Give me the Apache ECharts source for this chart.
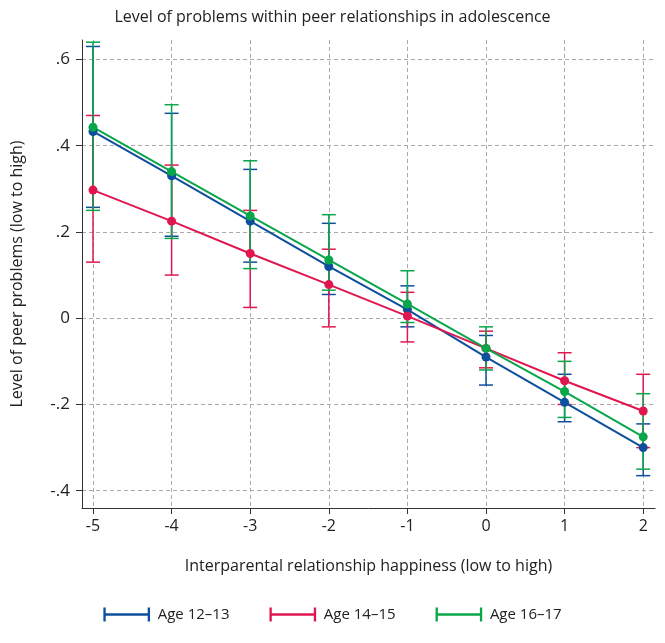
<!DOCTYPE html>
<html>
<head>
<meta charset="utf-8">
<script src="https://cdn.jsdelivr.net/npm/echarts@6/dist/echarts.min.js"></script>
<style>body{margin:0;background:#fff}#c{width:665px;height:643px}</style>
</head>
<body>
<div id="c"></div>
<script>
// x 值：父母关系幸福度
var xs = [-5, -4, -3, -2, -1, 0, 1, 2];
var yTicks = [-0.4, -0.2, 0, 0.2, 0.4, 0.6];

// 各年龄组估计值和置信区间
var age1213 = [0.433, 0.33, 0.225, 0.12, 0.02, -0.09, -0.195, -0.30];
var age1213Hi = [0.63, 0.475, 0.345, 0.22, 0.075, -0.04, -0.13, -0.245];
var age1213Lo = [0.257, 0.19, 0.13, 0.055, -0.02, -0.155, -0.24, -0.365];

var age1415 = [0.297, 0.225, 0.15, 0.078, 0.005, -0.07, -0.145, -0.215];
var age1415Hi = [0.47, 0.355, 0.25, 0.16, 0.06, -0.03, -0.08, -0.13];
var age1415Lo = [0.13, 0.10, 0.025, -0.02, -0.055, -0.115, -0.20, -0.30];

var age1617 = [0.443, 0.34, 0.237, 0.135, 0.033, -0.07, -0.17, -0.275];
var age1617Hi = [0.64, 0.495, 0.365, 0.24, 0.11, -0.02, -0.10, -0.175];
var age1617Lo = [0.25, 0.185, 0.115, 0.065, -0.01, -0.12, -0.23, -0.35];

var colors = ['#0d4f9c', '#e0174f', '#0aa64a'];
var names = ['Age 12\u201313', 'Age 14\u201315', 'Age 16\u201317'];
var groups = [[age1213, age1213Hi, age1213Lo], [age1415, age1415Hi, age1415Lo], [age1617, age1617Hi, age1617Lo]];

var font = 'Open Sans';
var series = [];
groups.forEach(function (g, i) {
	//误差线
	series.push({
		type: 'custom',
		name: names[i],
		z: 2,
		renderItem: function (params, api) {
			var lo = api.coord([api.value(0), api.value(1)]);
			var hi = api.coord([api.value(0), api.value(2)]);
			var w = 7;
			var st = { stroke: colors[i], lineWidth: 1.5 };
			return {
				type: 'group',
				children: [
					{ type: 'line', shape: { x1: lo[0], y1: lo[1], x2: hi[0], y2: hi[1] }, style: st },
					{ type: 'line', shape: { x1: lo[0] - w, y1: lo[1], x2: lo[0] + w, y2: lo[1] }, style: st },
					{ type: 'line', shape: { x1: hi[0] - w, y1: hi[1], x2: hi[0] + w, y2: hi[1] }, style: st }
				]
			};
		},
		data: xs.map(function (x, k) { return [x, g[2][k], g[1][k]]; })
	});
	//线和点
	series.push({
		type: 'line',
		name: names[i],
		z: 3,
		symbol: 'circle',
		symbolSize: 9,
		lineStyle: { color: colors[i], width: 2 },
		itemStyle: { color: colors[i] },
		data: xs.map(function (x, k) { return [x, g[0][k]]; })
	});
});

var icon = 'path://M0,0 L2,0 L2,5 L38,5 L38,0 L40,0 L40,12 L38,12 L38,7 L2,7 L2,12 L0,12 Z';

var option = {
	backgroundColor: '#fff',
	animation: false,
	color: colors,
	title: {
		text: 'Level of problems within peer relationships in adolescence',
		left: 'center', top: 4,
		textStyle: { fontFamily: font, fontWeight: 'normal', fontSize: 16, color: '#222' }
	},
	legend: {
		bottom: 16,
		itemWidth: 52, itemHeight: 14, itemGap: 40,
		icon: icon,
		textStyle: { fontFamily: font, fontSize: 15, color: '#222' },
		data: names.map(function (n, i) { return { name: n, itemStyle: { color: colors[i] } }; })
	},
	grid: { left: 82, right: 10, top: 40, bottom: 135 },
	xAxis: {
		type: 'value', min: -5.14, max: 2.15,
		name: 'Interparental relationship happiness (low to high)',
		nameLocation: 'middle', nameGap: 50,
		nameTextStyle: { fontFamily: font, fontSize: 16, color: '#222' },
		axisLine: { show: true, onZero: false, lineStyle: { color: '#333' } },
		axisTick: { show: true, length: 6, customValues: xs, lineStyle: { color: '#333' } },
		axisLabel: { customValues: xs, fontFamily: font, fontSize: 16, color: '#222', margin: 10 },
		splitLine: { show: true, lineStyle: { color: '#aaa', type: [4, 3] } }
	},
	yAxis: {
		type: 'value', min: -0.44, max: 0.645,
		name: 'Level of peer problems (low to high)',
		nameLocation: 'middle', nameGap: 57,
		nameTextStyle: { fontFamily: font, fontSize: 16, color: '#222' },
		axisLine: { show: true, onZero: false, lineStyle: { color: '#333' } },
		axisTick: { show: true, length: 6, customValues: yTicks, lineStyle: { color: '#333' } },
		axisLabel: {
			customValues: yTicks, fontFamily: font, fontSize: 17, color: '#222', margin: 12,
			formatter: function (v) {
				v = Math.round(v * 10) / 10;
				if (v === 0) return '0';
				return (v < 0 ? '-' : '') + String(Math.abs(v)).replace('0.', '.');
			}
		},
		splitLine: { show: true, lineStyle: { color: '#aaa', type: [4, 3] } }
	},
	series: series
};

var myChart = echarts.init(document.getElementById('c'));
myChart.setOption(option);
</script>
</body>
</html>
